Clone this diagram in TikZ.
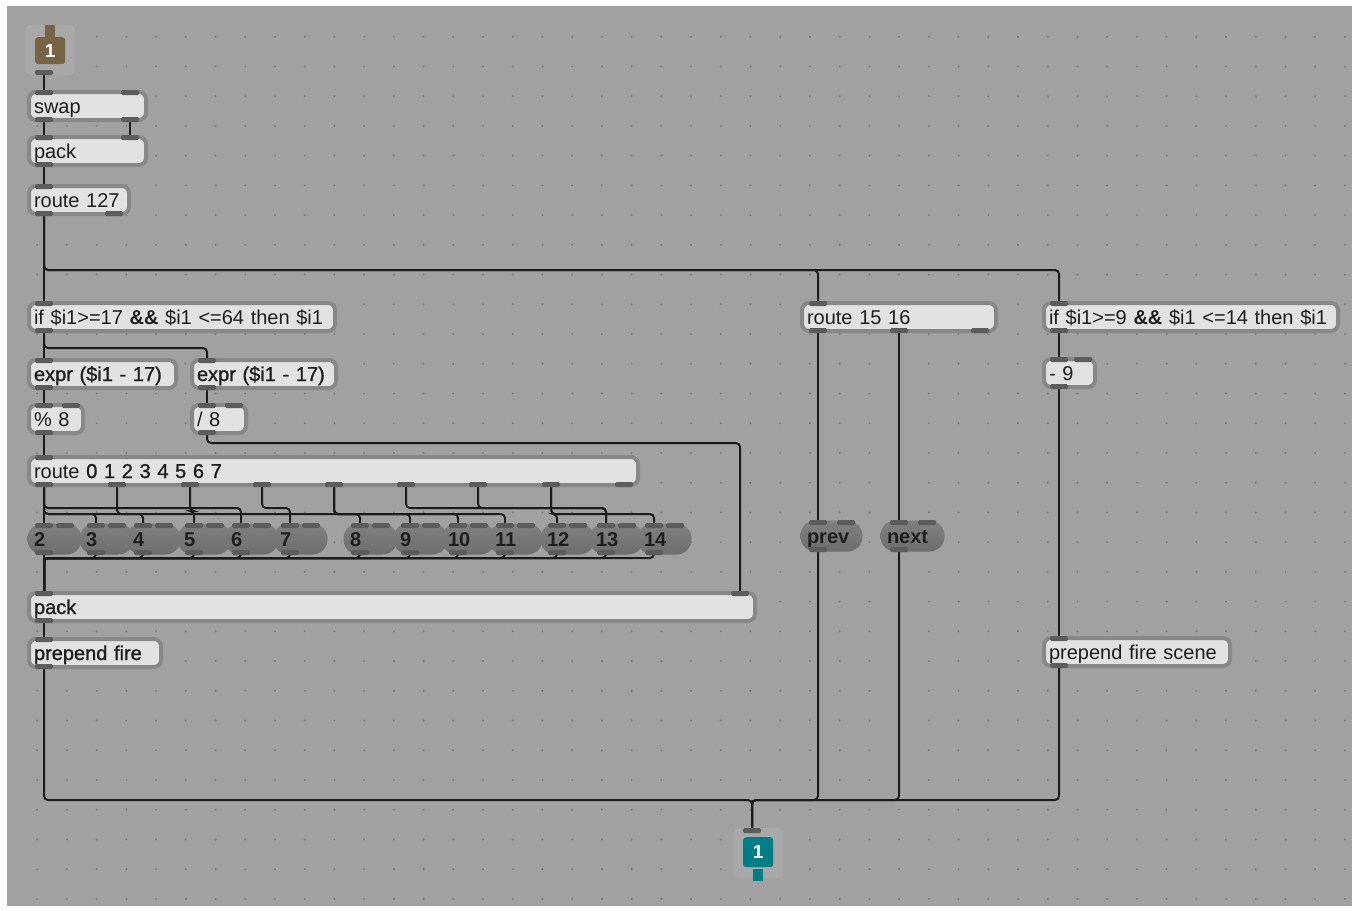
\documentclass[tikz,border=0pt]{standalone}
\usepackage{fontspec}
\setmainfont{Liberation Sans}
\newfontfamily\thickfont{Liberation Sans}[FakeBold=1.2]
\usepackage{xcolor}
\usepackage{tikz}
\usetikzlibrary{positioning,calc}
\pgfdeclarelayer{grid}
\pgfdeclarelayer{bg}
\pgfsetlayers{grid,bg,main}

\definecolor{page}{RGB}{255,255,255}
\definecolor{canvas}{RGB}{161,161,161}
\definecolor{griddot}{RGB}{126,126,126}
\definecolor{objframe}{RGB}{136,136,136}
\definecolor{objfill}{RGB}{226,226,226}
\definecolor{objtext}{RGB}{30,30,30}
\definecolor{portc}{RGB}{92,92,92}
\definecolor{pilltop}{RGB}{128,128,128}
\definecolor{pillbot}{RGB}{110,110,110}
\definecolor{cordc}{RGB}{28,28,28}
\definecolor{iobg}{RGB}{168,168,168}
\definecolor{inbrown}{RGB}{120,100,68}
\definecolor{outteal}{RGB}{0,126,136}

\newcommand\objfont{\fontsize{20}{22}\selectfont}
% box with its text, outer corner at #3
\newcommand\maxobj[5][obj]{%
  \pgfmathsetmacro\objtw{#4-14}%
  \node[#1,text width=\objtw pt] (#2) at (#3) {#5};}
% inlet / outlet tabs, offsets from the left edge
\newcommand\inlets[2]{%
  \foreach \o [count=\k from 0] in {#2}{%
    \fill[port] ($(#1.north west)+(\o,0)$) rectangle ++(18,5);
    \coordinate (#1-i\k) at ($(#1.north west)+(\o+9,0)$);}}
\newcommand\outlets[2]{%
  \foreach \o [count=\k from 0] in {#2}{%
    \fill[port] ($(#1.south west)+(\o,-5)$) rectangle ++(18,5);
    \coordinate (#1-o\k) at ($(#1.south west)+(\o+9,0)$);}}

\tikzset{
  obj/.style={anchor=north west, draw=objframe, line width=4pt, outer sep=2pt,
    fill=objfill, rounded corners=7pt, inner xsep=5pt, inner ysep=0pt,
    minimum height=28pt, align=left, font=\objfont, text=objtext,
    text height=16pt, text depth=2pt},
  msg/.style={anchor=north west, line width=1pt, outer sep=.5pt,
    top color=pilltop, bottom color=pillbot, rounded corners=15pt,
    inner xsep=6.5pt, inner ysep=0pt, minimum height=31pt, align=left,
    font=\objfont\bfseries, text=objtext, text height=16pt, text depth=1pt},
  iobox/.style={anchor=north west, fill=iobg, rounded corners=6pt,
    minimum size=50pt, inner sep=0pt, outer sep=0pt},
  port/.style={fill=portc, rounded corners=1.5pt},
  cord/.style={draw=cordc, line width=2pt, rounded corners=4pt}
}

\begin{document}
\begin{tikzpicture}[x=1pt,y=-1pt]
\useasboundingbox (0,0) rectangle (1359,910);
\begin{pgfonlayer}{grid}
  \fill[page] (0,0) rectangle (1359,910);
  \fill[canvas] (7,6) rectangle (1352,906);
  \foreach \i in {1,...,45}
    \foreach \j in {1,...,30}
      \fill[griddot] (7.5+29.72*\i,7+29.73*\j) circle (1.1);
\end{pgfonlayer}

% inlet
\node[iobox] (inbg) at (25,25) {};
\node[anchor=north west, fill=inbrown, rounded corners=3pt, minimum width=30pt,
  minimum height=27pt, inner sep=0pt, text=white, font=\fontsize{19}{19}\selectfont\bfseries] (inl) at (35,37) {1};
\fill[inbrown] ($(inl.north)+(-5,2)$) rectangle ++(10,-14);
\outlets{inbg}{10}

\maxobj{swap}{27,90}{121}{swap}
\inlets{swap}{8,94} \outlets{swap}{8,94}
\maxobj{pack1}{27,135}{121}{pack}
\inlets{pack1}{8,94} \outlets{pack1}{8}
\maxobj{rt127}{27,184}{104}{route 127}
\inlets{rt127}{8} \outlets{rt127}{8,78}

\maxobj{if1}{27,301}{310}{if \$i1>=17 \textbf{\&\&} \$i1 <=64 then \$i1}
\inlets{if1}{8} \outlets{if1}{8}
\maxobj{expr1}{27,358}{151}{{\thickfont expr (\$i1 - 17)}}
\inlets{expr1}{8} \outlets{expr1}{8}
\maxobj{expr2}{190,358}{148}{{\thickfont expr (\$i1 - 17)}}
\inlets{expr2}{8} \outlets{expr2}{8}
\maxobj{mod8}{27,403}{58}{\% 8}
\inlets{mod8}{8,35} \outlets{mod8}{8}
\maxobj{div8}{190,403}{58}{/ 8}
\inlets{div8}{8,35} \outlets{div8}{8}
\maxobj{rt8}{27,455}{613}{route {\thickfont 0 1 2 3 4 5 6 7}}
\inlets{rt8}{8} \outlets{rt8}{8,81,154,226,298,370,442,515,588}

% message boxes
\foreach \lbl/\x in {2/27,3/79,4/126,5/177,6/224,7/273,8/343,9/393,10/441,11/488,12/540,13/589,14/637}{
  \maxobj[msg]{p\lbl}{\x,523}{55}{\lbl}
  \inlets{p\lbl}{8,29} \outlets{p\lbl}{8}
}

\maxobj{pack2}{27,591}{730}{{\thickfont pack}}
\inlets{pack2}{8,704} \outlets{pack2}{8}
\maxobj{prepfire}{27,637}{136}{{\thickfont prepend fire}}
\inlets{prepfire}{8} \outlets{prepfire}{8}

\maxobj{rt1516}{800,301}{198}{route 15 16}
\inlets{rt1516}{9} \outlets{rt1516}{9,90,171}
\maxobj[msg]{prev}{800,520}{63}{prev}
\inlets{prev}{9,37} \outlets{prev}{9}
\maxobj[msg]{next}{880,520}{65}{next}
\inlets{next}{10,38} \outlets{next}{10}

\maxobj{if2}{1042,301}{298}{if \$i1>=9 \textbf{\&\&} \$i1 <=14 then \$i1}
\inlets{if2}{8} \outlets{if2}{8}
\maxobj{minus9}{1042,357}{55}{- 9}
\inlets{minus9}{8,32} \outlets{minus9}{8}
\maxobj{prepscene}{1042,636}{190}{prepend fire scene}
\inlets{prepscene}{8} \outlets{prepscene}{8}

% outlet
\node[iobox] (outbg) at (733,828) {};
\node[anchor=north west, fill=outteal, rounded corners=3pt, minimum size=30pt,
  inner sep=0pt, text=white, font=\fontsize{19}{19}\selectfont\bfseries] (outl) at (743,837) {1};
\fill[outteal] ($(outl.south)+(-5,2)$) rectangle ++(10,12);
\inlets{outbg}{10}

\begin{pgfonlayer}{bg}
\draw[cord] (inbg-o0) -- (swap-i0);
\draw[cord] (swap-o0) -- (pack1-i0);
\draw[cord] (swap-o1) -- (pack1-i1);
\draw[cord] (pack1-o0) -- (rt127-i0);
\draw[cord] (rt127-o0) -- (if1-i0);
\draw[cord] (rt127-o0) |- ([yshift=31pt]rt1516-i0) -- (rt1516-i0);
\draw[cord] (rt127-o0) |- ([yshift=31pt]if2-i0) -- (if2-i0);
\draw[cord] (if1-o0) -- (expr1-i0);
\draw[cord] (if1-o0) -- ++(0,15) -| (expr2-i0);
\draw[cord] (expr1-o0) -- (mod8-i0);
\draw[cord] (expr2-o0) -- (div8-i0);
\draw[cord] (mod8-o0) -- (rt8-i0);
\draw[cord] (div8-o0) -- ++(0,8) -| (pack2-i1);
% route outlets to the message boxes
\draw[cord] (rt8-o0) -- (p2-i0);
\foreach \s/\d/\h in {o0/p3/9,o0/p11/9,o1/p4/9,o2/p5/12,o0/p6/15,o3/p7/15,
    o4/p8/9,o4/p9/9,o4/p10/9,o5/p13/15,o6/p13/15,o7/p12/9,o7/p14/9}
  \draw[cord] (rt8-\s) |- ([yshift=\h pt]\d-i0) -- (\d-i0);
\draw[cord] (p2-o0) -- (pack2-i0);
\foreach \n in {3,...,14}
  \draw[cord] (p\n-o0) -- ++(0,3) -| (pack2-i0);
\draw[cord] (pack2-o0) -- (prepfire-i0);
\draw[cord] (rt1516-o0) -- (prev-i0);
\draw[cord] (rt1516-o1) -- (next-i0);
\draw[cord] (if2-o0) -- (minus9-i0);
\draw[cord] (minus9-o0) -- (prepscene-i0);
\foreach \s in {prepfire-o0,prev-o0,next-o0,prepscene-o0}
  \draw[cord] (\s) |- ([yshift=28pt]outbg-i0) -- (outbg-i0);
\end{pgfonlayer}
\end{tikzpicture}
\end{document}
